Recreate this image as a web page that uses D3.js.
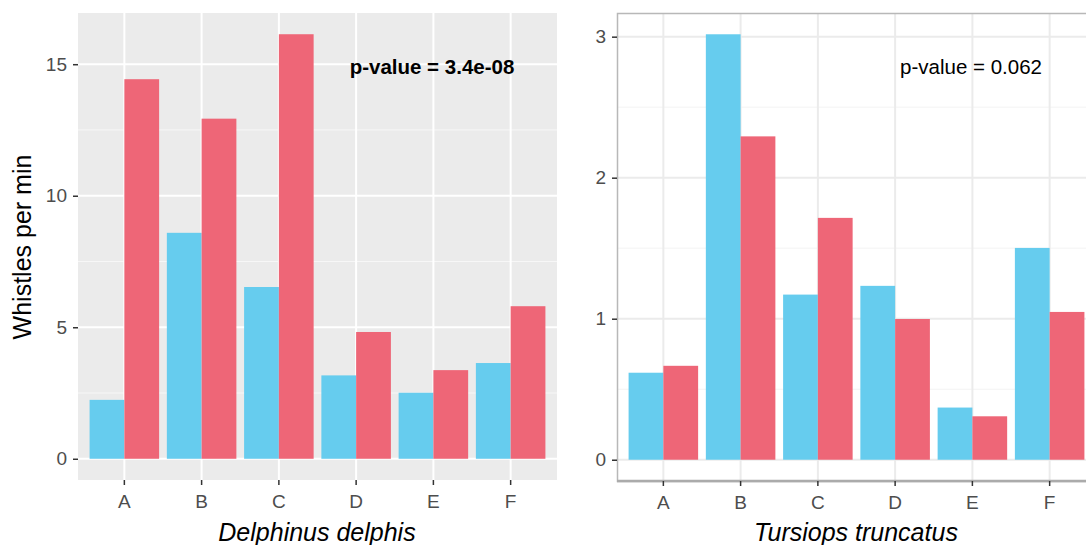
<!DOCTYPE html>
<html>
<head>
<meta charset="utf-8">
<script src="https://cdn.jsdelivr.net/npm/d3@7"></script>
<style>
  body { margin: 0; background: #fff; }
  svg { display: block; font-family: "Liberation Sans", Arial, sans-serif; }
</style>
</head>
<body>
<div id="app"></div>
<script>
// data
var categories = ['A', 'B', 'C', 'D', 'E', 'F'];
var groups = ['g1', 'g2'];
var delphisG1 = [2.24, 8.59, 6.53, 3.17, 2.51, 3.64];
var delphisG2 = [14.43, 12.93, 16.14, 4.82, 3.37, 5.80];
var truncatusG1 = [0.617, 3.017, 1.171, 1.233, 0.370, 1.502];
var truncatusG2 = [0.666, 2.293, 1.715, 0.998, 0.308, 1.048];
var delphisTicks = [0, 5, 10, 15];
var delphisMinor = [2.5, 7.5, 12.5];
var truncatusTicks = [0, 1, 2, 3];
var truncatusMinor = [0.5, 1.5, 2.5];

var colors = { g1: '#66CCEE', g2: '#EE6677' };

var W = 1086, H = 545;
var svg = d3.select('#app').append('svg')
    .attr('width', W)
    .attr('height', H);

function panel(opts) {
    var g = svg.append('g');
    var x0 = opts.x0, x1 = opts.x1, y0 = opts.y0, y1 = opts.y1;

    var rows = categories.map(function (c, i) {
        return { cat: c, g1: opts.g1[i], g2: opts.g2[i] };
    });
    var yMax = d3.max(rows, function (d) { return Math.max(d.g1, d.g2); });

    var x = d3.scaleBand()
        .domain(categories)
        .range([x0, x1])
        .paddingInner(0.1)
        .paddingOuter(0.15);
    var xIn = d3.scaleBand()
        .domain(groups)
        .range([0, x.bandwidth()]);
    var y = d3.scaleLinear()
        .domain([-0.05 * yMax, 1.05 * yMax])
        .range([y1, y0]);

    // background
    g.append('rect')
        .attr('x', x0).attr('y', y0)
        .attr('width', x1 - x0).attr('height', y1 - y0)
        .attr('fill', opts.bg);

    // grid
    g.selectAll('.minor')
        .data(opts.minor)
        .enter().append('line')
        .attr('x1', x0).attr('x2', x1)
        .attr('y1', function (d) { return y(d); })
        .attr('y2', function (d) { return y(d); })
        .attr('stroke', opts.gridMinor)
        .attr('stroke-width', 1);
    g.selectAll('.majorY')
        .data(opts.ticks)
        .enter().append('line')
        .attr('x1', x0).attr('x2', x1)
        .attr('y1', function (d) { return y(d); })
        .attr('y2', function (d) { return y(d); })
        .attr('stroke', opts.grid)
        .attr('stroke-width', 2);
    g.selectAll('.majorX')
        .data(categories)
        .enter().append('line')
        .attr('y1', y0).attr('y2', y1)
        .attr('x1', function (d) { return x(d) + x.bandwidth() / 2; })
        .attr('x2', function (d) { return x(d) + x.bandwidth() / 2; })
        .attr('stroke', opts.grid)
        .attr('stroke-width', 2);

    // bars
    var bars = g.selectAll('.grp')
        .data(rows)
        .enter().append('g')
        .attr('transform', function (d) { return 'translate(' + x(d.cat) + ',0)'; });
    bars.selectAll('rect')
        .data(function (d) { return groups.map(function (k) { return { k: k, v: d[k] }; }); })
        .enter().append('rect')
        .attr('x', function (d) { return xIn(d.k); })
        .attr('width', xIn.bandwidth())
        .attr('y', function (d) { return y(d.v); })
        .attr('height', function (d) { return y(0) - y(d.v); })
        .attr('fill', function (d) { return colors[d.k]; });

    // border
    if (opts.border) {
        g.append('rect')
            .attr('x', x0 + 0.5).attr('y', y0 + 0.5)
            .attr('width', x1 - x0).attr('height', y1 - y0)
            .attr('fill', 'none')
            .attr('stroke', '#B8B8B8')
            .attr('stroke-width', 1.5);
        g.append('line')
            .attr('x1', x0).attr('x2', x1)
            .attr('y1', y1).attr('y2', y1)
            .attr('stroke', '#ABABAB')
            .attr('stroke-width', 2.5);
    }

    // axes
    var yAxis = g.append('g')
        .attr('transform', 'translate(' + x0 + ',0)')
        .call(d3.axisLeft(y).tickValues(opts.ticks).tickSize(5).tickPadding(6).tickFormat(d3.format('d')));
    var xAxis = g.append('g')
        .attr('transform', 'translate(0,' + y1 + ')')
        .call(d3.axisBottom(x).tickSize(5).tickPadding(10));
    [yAxis, xAxis].forEach(function (a) {
        a.select('.domain').remove();
        a.selectAll('.tick line').attr('stroke', '#333333').attr('stroke-width', 1.5);
        a.selectAll('.tick text')
            .attr('fill', '#4D4D4D')
            .style('font-size', '19px')
            .style('font-family', '"Liberation Sans", Arial, sans-serif');
    });

    // x title
    g.append('text')
        .attr('x', opts.titleX)
        .attr('y', 541)
        .attr('text-anchor', 'middle')
        .style('font-size', '25px')
        .style('font-style', 'italic')
        .attr('fill', '#000')
        .text(opts.title);

    // annotation
    g.append('text')
        .attr('x', opts.noteX)
        .attr('y', 74)
        .attr('text-anchor', 'middle')
        .style('font-size', '20.5px')
        .style('font-weight', opts.noteBold ? 'bold' : 'normal')
        .attr('fill', '#000')
        .text(opts.note);

    return g;
}

panel({
    x0: 78, x1: 557, y0: 13, y1: 480,
    g1: delphisG1, g2: delphisG2,
    ticks: delphisTicks, minor: delphisMinor,
    bg: '#EBEBEB', grid: '#FFFFFF', gridMinor: '#F7F7F7',
    border: false,
    title: 'Delphinus delphis', titleX: 317,
    note: 'p-value = 3.4e-08', noteX: 432, noteBold: true
});

panel({
    x0: 617, x1: 1096, y0: 13, y1: 481,
    g1: truncatusG1, g2: truncatusG2,
    ticks: truncatusTicks, minor: truncatusMinor,
    bg: '#FFFFFF', grid: '#EBEBEB', gridMinor: '#F3F3F3',
    border: true,
    title: 'Tursiops truncatus', titleX: 856,
    note: 'p-value = 0.062', noteX: 971, noteBold: false
});

// y title
svg.append('text')
    .attr('transform', 'translate(31,247) rotate(-90)')
    .attr('text-anchor', 'middle')
    .style('font-size', '25px')
    .attr('fill', '#000')
    .text('Whistles per min');
</script>
</body>
</html>
